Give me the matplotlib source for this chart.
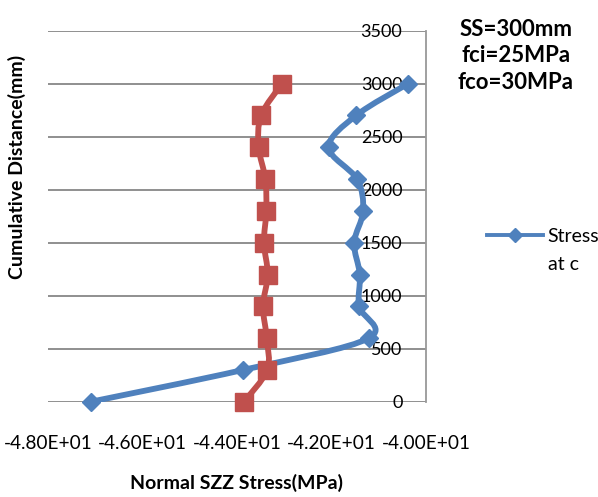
import numpy as np
import matplotlib
matplotlib.use('Agg')
import matplotlib.pyplot as plt
from matplotlib.path import Path
from matplotlib.patches import PathPatch
from matplotlib.lines import Line2D

plt.rcParams['font.family'] = ['Lato', 'DejaVu Sans']

# cumulative distance (mm)
dist = [0, 300, 600, 900, 1200, 1500, 1800, 2100, 2400, 2700, 3000]
# normal SZZ stress (MPa)
stress_c = [-47.09, -43.87, -41.21, -41.42, -41.40, -41.52, -41.33, -41.46, -42.06, -41.48, -40.38]
stress_2 = [-43.85, -43.36, -43.37, -43.45, -43.35, -43.43, -43.38, -43.40, -43.54, -43.49, -43.05]

xticks = [-48, -46, -44, -42, -40]
yticks = [0, 500, 1000, 1500, 2000, 2500, 3000, 3500]

blue = '#4F81BD'
red = '#C0504D'


def smooth_path(x, y):
    # excel style smoothed line (catmull-rom as cubic bezier)
    p = np.column_stack([x, y]).astype(float)
    p = np.vstack([p[0], p, p[-1]])
    verts = [p[1]]
    codes = [Path.MOVETO]
    for i in range(1, len(p) - 2):
        c1 = p[i] + (p[i + 1] - p[i - 1]) / 6.0
        c2 = p[i + 1] - (p[i + 2] - p[i]) / 6.0
        verts += [c1, c2, p[i + 1]]
        codes += [Path.CURVE4] * 3
    return Path(verts, codes)


W, H = 598, 497
fig = plt.figure(figsize=(W / 100, H / 100), dpi=100)
ax = fig.add_axes([48 / W, 1 - 401.7 / H, 378 / W, 371 / H])

ax.set_xlim(-48, -40)
ax.set_ylim(0, 3500)
ax.set_xticks(xticks)
ax.set_yticks(yticks)
ax.xaxis.set_major_formatter(plt.FuncFormatter(lambda v, pos: f'{v:.2E}'))

for yv in yticks:
    ax.axhline(yv, color='#878787', lw=1.3, zorder=1)

for side in ['left', 'top', 'bottom']:
    ax.spines[side].set_visible(False)
ax.spines['right'].set_color('#999999')
ax.spines['right'].set_linewidth(1.3)

ax.tick_params(axis='x', length=0, pad=24, labelsize=13.7)
ax.yaxis.tick_right()
ax.tick_params(axis='y', length=0, pad=-17, labelsize=13)
for lbl in ax.get_yticklabels():
    lbl.set_ha('right')

for xs, col in [(stress_c, blue), (stress_2, red)]:
    ax.add_patch(PathPatch(smooth_path(xs, dist), facecolor='none', edgecolor=col,
                           lw=4.2, capstyle='round', joinstyle='round', zorder=3))

ax.plot(stress_c, dist, ls='none', marker='D', ms=9.5, color=blue, zorder=4, clip_on=False)
ax.plot(stress_2, dist, ls='none', marker='s', ms=13.5, color=red, zorder=4, clip_on=False)

fig.text(237 / W, 1 - 483 / H, 'Normal SZZ Stress(MPa)', ha='center', va='center',
         fontsize=14, fontweight='bold')
fig.text(17 / W, 1 - 166.5 / H, 'Cumulative Distance(mm)', ha='center', va='center',
         rotation=90, fontsize=14, fontweight='bold')

fig.text(516 / W, 1 - 56 / H, 'SS=300mm\nfci=25MPa\nfco=30MPa', ha='center', va='center',
         fontsize=16, fontweight='bold', linespacing=1.3)

handle = Line2D([], [], color=blue, lw=2.8, marker='D', ms=7)
fig.legend([handle], ['Stress'], loc='center left', bbox_to_anchor=(487 / W, 1 - 236 / H),
           frameon=False, fontsize=14, handlelength=2.9, handletextpad=0.2, borderpad=0,
           borderaxespad=0)
fig.text(548 / W, 1 - 264 / H, 'at c', ha='left', va='center', fontsize=14)

fig.savefig('out.png', dpi=100)
